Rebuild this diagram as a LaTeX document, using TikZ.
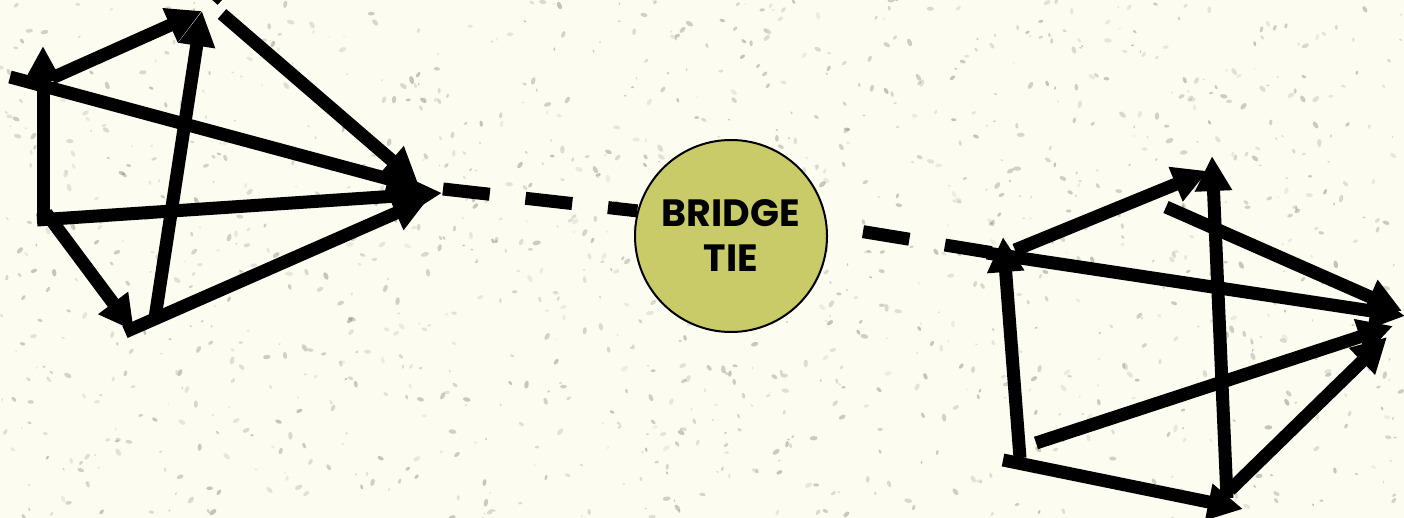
\documentclass[tikz,border=0pt]{standalone}
\usepackage{fontspec}
\newfontfamily\btfont{Poppins}
\usetikzlibrary{arrows.meta}
\definecolor{bgcream}{RGB}{252,252,240}
\definecolor{tiefill}{RGB}{200,203,104}
\definecolor{speck}{RGB}{130,130,118}
\tikzset{
  edge/.style={line width=13pt, black},
  arr/.style={edge, -{Triangle[length=35pt,width=35pt]}},
  tieline/.style={edge, dash pattern=on 47pt off 36pt},
  tie/.style={circle, draw=black, line width=2pt, fill=tiefill, minimum size=192pt,
    inner sep=0pt, align=center, font=\btfont\bfseries\fontsize{38}{45}\selectfont},
}
\begin{document}
\begin{tikzpicture}[x=1pt,y=-1pt]
\useasboundingbox (0,0) rectangle (1404,518);
\clip (0,0) rectangle (1404,518);
\fill[bgcream] (0,0) rectangle (1404,518);
% speckled paper texture
\pgfmathsetseed{7}
\foreach \i in {1,...,1300}{
  \pgfmathsetmacro\sx{rnd*1404}
  \pgfmathsetmacro\sy{rnd*518}
  \pgfmathsetmacro\sr{0.7+rnd*1.6}
  \pgfmathsetmacro\sa{rnd*180}
  \pgfmathsetmacro\so{0.12+rnd*0.35}
  \fill[speck, opacity=\so, rotate around={\sa:(\sx,\sy)}] (\sx,\sy) ellipse ({1.8*\sr pt} and {\sr pt});
}
% ---------- left cluster ----------
\coordinate (Av0) at (43,221);
\coordinate (Atip) at (43,46);
\coordinate (ABs) at (52,78);
\coordinate (Btip) at (202,11);
\coordinate (L2s) at (10,77);
\coordinate (L2t) at (422,188);
\coordinate (L3s) at (222,14);
\coordinate (L3t) at (418,183);
\coordinate (L4s) at (37,220);
\coordinate (L4t) at (442,193);
\coordinate (L5s) at (46,213);
\coordinate (Dtip) at (134,331);
\coordinate (L6s) at (125,332);
\coordinate (L6t) at (428,199);
\coordinate (L7s) at (155,318);
\coordinate (Top1) at (204,-16);
\coordinate (Top2) at (222,0);
\coordinate (Cd) at (443,189);
% ---------- right cluster ----------
\coordinate (Ps) at (1020,458);
\coordinate (Ptip) at (1003,237);
\coordinate (Bs) at (1015,250);
\coordinate (Qb) at (1208,171);
\coordinate (Cs) at (1227,498);
\coordinate (Qc) at (1212,156);
\coordinate (Ds) at (1166,207);
\coordinate (Rd) at (1402,311);
\coordinate (Es) at (987,253);
\coordinate (Re) at (1405,316);
\coordinate (Fs) at (1036,443);
\coordinate (Rf) at (1393,326);
\coordinate (Gs) at (1230,490);
\coordinate (Rg) at (1387,337);
\coordinate (Hs) at (1003,460);
\coordinate (Hb) at (1243,509);
\coordinate (Pd) at (1000,254);
% ---------- bridge tie ----------
\node[tie] (bt) at (731,236) {BRIDGE\\TIE};
% left edges
\draw[arr] (Av0) -- (Atip);
\draw[arr] (ABs) -- (Btip);
\draw[arr] (L7s) -- (Btip);
\draw[arr] (L2s) -- (L2t);
\draw[arr] (L3s) -- (L3t);
\draw[edge] (Top1) -- (Top2);
\draw[arr] (L4s) -- (L4t);
\draw[arr] (L5s) -- (Dtip);
\draw[arr] (L6s) -- (L6t);
% right edges
\draw[arr] (Ps) -- (Ptip);
\draw[arr] (Bs) -- (Qb);
\draw[arr] (Cs) -- (Qc);
\draw[arr] (Ds) -- (Rd);
\draw[arr] (Es) -- (Re);
\draw[arr] (Fs) -- (Rf);
\draw[arr] (Gs) -- (Rg);
\draw[arr] (Hs) -- (Hb);
% dashed ties
\draw[tieline] (Cd) -- (bt.165);
\draw[tieline, dash phase=47pt] (bt.6) -- (Pd);
\end{tikzpicture}
\end{document}
